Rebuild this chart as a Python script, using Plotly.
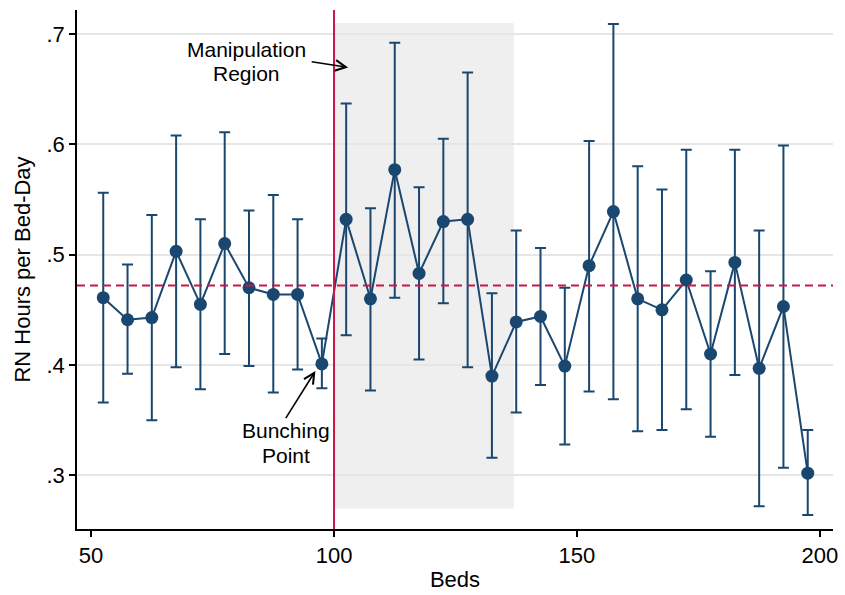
import plotly.graph_objects as go

# Bin midpoints (beds) and mean RN hours per bed-day with 95% CI bounds
beds = [52.5, 57.5, 62.5, 67.5, 72.5, 77.5, 82.5, 87.5, 92.5, 97.5,
        102.5, 107.5, 112.5, 117.5, 122.5, 127.5, 132.5, 137.5, 142.5, 147.5,
        152.5, 157.5, 162.5, 167.5, 172.5, 177.5, 182.5, 187.5, 192.5, 197.5]
rn_hours = [0.461, 0.441, 0.443, 0.503, 0.455, 0.510, 0.470, 0.464, 0.464, 0.401,
            0.532, 0.460, 0.577, 0.483, 0.530, 0.532, 0.390, 0.439, 0.444, 0.399,
            0.490, 0.539, 0.460, 0.450, 0.477, 0.410, 0.493, 0.397, 0.453, 0.302]
ci_upper = [0.556, 0.491, 0.536, 0.608, 0.532, 0.611, 0.540, 0.554, 0.532, 0.424,
            0.637, 0.542, 0.692, 0.561, 0.605, 0.665, 0.465, 0.522, 0.506, 0.470,
            0.603, 0.709, 0.580, 0.559, 0.595, 0.485, 0.595, 0.522, 0.599, 0.341]
ci_lower = [0.366, 0.392, 0.350, 0.398, 0.378, 0.410, 0.399, 0.375, 0.396, 0.379,
            0.427, 0.377, 0.461, 0.405, 0.456, 0.398, 0.316, 0.357, 0.382, 0.328,
            0.376, 0.369, 0.340, 0.341, 0.360, 0.335, 0.391, 0.272, 0.307, 0.264]

overall_mean = 0.472
threshold_beds = 100
manip_region = (100, 137)
manip_band = (0.27, 0.71)

x_ticks = [50, 100, 150, 200]
y_ticks = [0.3, 0.4, 0.5, 0.6, 0.7]
y_tick_text = [".3", ".4", ".5", ".6", ".7"]

NAVY = "#1a476f"
RED = "#c8174b"
FONT = "Liberation Sans, Arial, sans-serif"
FS = 22
FS_NOTE = 21

err_plus = [u - m for u, m in zip(ci_upper, rn_hours)]
err_minus = [m - l for m, l in zip(rn_hours, ci_lower)]

fig = go.Figure()

fig.add_trace(go.Scatter(
    x=beds, y=rn_hours, mode="lines+markers",
    line=dict(color=NAVY, width=2),
    marker=dict(color=NAVY, size=13),
    error_y=dict(type="data", array=err_plus, arrayminus=err_minus,
                 color=NAVY, thickness=2, width=5.5),
    showlegend=False, hoverinfo="skip",
))

# Shaded manipulation region
fig.add_shape(type="rect", xref="x", yref="y",
              x0=manip_region[0], x1=manip_region[1],
              y0=manip_band[0], y1=manip_band[1],
              fillcolor="#efefef", line=dict(width=0), layer="below")

# Threshold at 100 beds
fig.add_shape(type="line", xref="x", yref="paper",
              x0=threshold_beds, x1=threshold_beds, y0=0, y1=1,
              line=dict(color=RED, width=2), layer="above")

# Overall mean
fig.add_shape(type="line", xref="paper", yref="y",
              x0=0, x1=1, y0=overall_mean, y1=overall_mean,
              line=dict(color=RED, width=2, dash="8px,5px"), layer="above")

text_font = dict(family=FONT, size=FS_NOTE, color="black")
annotations = [
    dict(x=82.0, y=0.6855, text="Manipulation"),
    dict(x=82.0, y=0.6639, text="Region"),
    dict(x=90.1, y=0.3405, text="Bunching"),
    dict(x=90.1, y=0.3183, text="Point"),
]
for a in annotations:
    fig.add_annotation(x=a["x"], y=a["y"], text=a["text"], showarrow=False,
                       xref="x", yref="y", xanchor="center", yanchor="middle",
                       font=text_font)

arrows = [
    dict(x=102.9, y=0.6697, ax=95.1, ay=0.675),
    dict(x=96.16, y=0.3946, ax=89.88, ay=0.3505),
]
for a in arrows:
    fig.add_annotation(x=a["x"], y=a["y"], ax=a["ax"], ay=a["ay"],
                       xref="x", yref="y", axref="x", ayref="y",
                       text="", showarrow=True, arrowhead=5, arrowsize=1.3,
                       arrowwidth=1.6, arrowcolor="black", standoff=0,
                       startstandoff=0)

fig.update_layout(
    width=845, height=595,
    margin=dict(l=77, r=7, t=10, b=59),
    paper_bgcolor="white", plot_bgcolor="white",
    font=dict(family=FONT, size=FS, color="black"),
    showlegend=False,
)

fig.update_xaxes(
    range=[47.1, 202.7], tickvals=x_ticks, ticktext=[str(t) for t in x_ticks],
    showgrid=False, zeroline=False,
    showline=True, linecolor="black", linewidth=1.5,
    ticks="outside", ticklen=6, tickwidth=1.5, tickcolor="black",
    tickfont=dict(family=FONT, size=FS, color="black"),
    title=dict(text="Beds", font=dict(family=FONT, size=FS, color="black"), standoff=4),
)
fig.update_yaxes(
    range=[0.2514, 0.7217], tickvals=y_ticks, ticktext=y_tick_text,
    showgrid=True, gridcolor="#e6e6e6", gridwidth=1.5, zeroline=False,
    showline=True, linecolor="black", linewidth=1.5,
    ticks="outside", ticklen=6, tickwidth=1.5, tickcolor="black",
    tickfont=dict(family=FONT, size=FS, color="black"),
    title=dict(text="RN Hours per Bed-Day", font=dict(family=FONT, size=FS, color="black"), standoff=10),
)

fig.write_html("out.html")
